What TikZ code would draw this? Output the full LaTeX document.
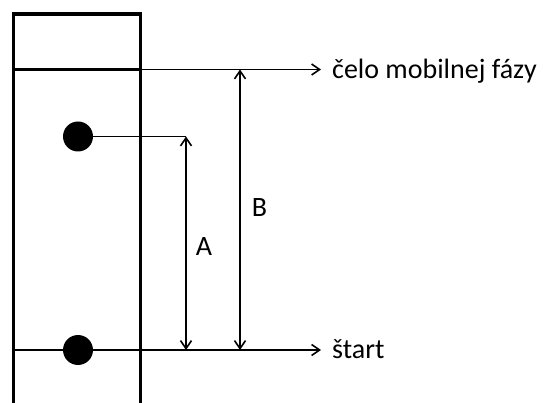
\documentclass[tikz,border=0pt]{standalone}
\usepackage{fontspec}
\setmainfont{Carlito}
\usetikzlibrary{arrows.meta}
\begin{document}
\begin{tikzpicture}[x=1pt, y=-1pt, >={Straight Barb[length=8pt, width=11pt]},
        spot/.style={circle, fill=black, inner sep=0pt, minimum size=30pt},
        popis/.style={font=\fontsize{28}{32}\selectfont, inner sep=0pt},
        sipka/.style={->, line width=1.6pt},
        rozmer/.style={<->, line width=1.6pt}]
        \useasboundingbox (0,0) rectangle (543,403);

        % Kolona (doska)
        \draw[line width=3.5pt] (13.3,410) -- (13.3,14) -- (140.5,14) -- (140.5,410);

        % Body na okraji kolony
        \coordinate (frontL) at (13.3,69.5);
        \coordinate (frontR) at (140.5,69.5);
        \coordinate (startL) at (13.3,350);
        \coordinate (startR) at (140.5,350);

        % Skvrny
        \node[spot] (spotA) at (78,136.5) {};
        \node[spot] (spotS) at (78,350) {};

        % Popisy vpravo
        \node[popis, anchor=base west, inner xsep=11pt] (front) at (321,78.5) {čelo mobilnej fázy};
        \node[popis, anchor=base west, inner xsep=11pt] (start) at (321,358) {štart};

        % Čelo mobilnej fázy a štart
        \draw[line width=2.5pt] (frontL) -- (frontR);
        \draw[line width=2.5pt] (startL) -- (spotS) -- (startR);
        \draw[sipka] (frontR) -- (front.west |- frontR);
        \draw[sipka] (startR) -- (start.west |- startR);

        % Vzdialenosti A a B
        \coordinate (aTop) at (186,136.5);
        \coordinate (bTop) at (240,69.5);
        \draw[line width=1.6pt] (spotA) -- (aTop);
        \draw[rozmer] (aTop) -- (aTop |- startR);
        \draw[rozmer] (bTop) -- (bTop |- startR);
        \node[popis] (labA) at (204,247) {A};
        \node[popis] (labB) at (259.5,208) {B};

    \end{tikzpicture}
\end{document}
